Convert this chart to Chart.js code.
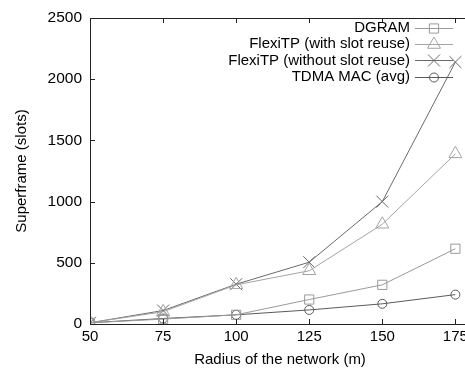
<!DOCTYPE html>
<html>
<head>
<meta charset="utf-8">
<script src="https://cdn.jsdelivr.net/npm/chart.js@4/dist/chart.umd.min.js"></script>
<style>
  html, body { margin: 0; padding: 0; background: #fff; overflow: hidden; width: 465px; height: 369px; }
  #wrap { width: 490px; height: 369px; }
</style>
</head>
<body>
<div id="wrap"><canvas id="c" width="490" height="369"></canvas></div>
<script>
// ---- data ----
const radius = [50, 75, 100, 125, 150, 175];
const dgram = [10, 40, 75, 200, 320, 615];
const flexiReuse = [10, 100, 320, 435, 815, 1390];
const flexiNoReuse = [10, 110, 325, 505, 1000, 2140];
const tdmaAvg = [10, 45, 75, 115, 165, 240];
const seriesNames = ['DGRAM', 'FlexiTP (with slot reuse)', 'FlexiTP (without slot reuse)', 'TDMA MAC (avg)'];
const xTicks = [50, 75, 100, 125, 150, 175];
const yTicks = [0, 500, 1000, 1500, 2000, 2500];

const FONT = 'Liberation Sans, Arial, Helvetica, sans-serif';
const styles = [
  { color: '#9a9a9a', pointStyle: 'rect', radius: 6.5 },
  { color: '#a4a4a4', pointStyle: 'triangle', radius: 7.5 },
  { color: '#6a6a6a', pointStyle: 'crossRot', radius: 8.5 },
  { color: '#5a5a5a', pointStyle: 'circle', radius: 4.5 }
];
const values = [dgram, flexiReuse, flexiNoReuse, tdmaAvg];

const datasets = values.map((vals, i) => ({
  label: seriesNames[i],
  data: radius.map((r, j) => ({ x: r, y: vals[j] })),
  borderColor: styles[i].color,
  backgroundColor: 'rgba(0,0,0,0)',
  borderWidth: 1,
  pointStyle: styles[i].pointStyle,
  pointRadius: styles[i].radius,
  pointHoverRadius: styles[i].radius,
  pointBorderColor: styles[i].color,
  pointBackgroundColor: 'rgba(0,0,0,0)',
  pointBorderWidth: 1,
  tension: 0
}));

function drawMarker(ctx, style, r, x, y) {
  ctx.beginPath();
  if (style === 'rect') {
    const s = Math.SQRT1_2 * r;
    ctx.rect(x - s, y - s, 2 * s, 2 * s);
  } else if (style === 'triangle') {
    ctx.moveTo(x, y - r);
    ctx.lineTo(x + r * Math.cos(Math.PI / 6), y + r / 2);
    ctx.lineTo(x - r * Math.cos(Math.PI / 6), y + r / 2);
    ctx.closePath();
  } else if (style === 'crossRot') {
    const o = Math.SQRT1_2 * r;
    ctx.moveTo(x - o, y - o); ctx.lineTo(x + o, y + o);
    ctx.moveTo(x - o, y + o); ctx.lineTo(x + o, y - o);
  } else {
    ctx.arc(x, y, r, 0, Math.PI * 2);
  }
  ctx.stroke();
}

const framePlugin = {
  id: 'frame',
  afterDatasetsDraw(chart) {
    const { ctx, chartArea: a, scales } = chart;
    ctx.save();
    ctx.strokeStyle = '#222';
    ctx.lineWidth = 1;
    ctx.strokeRect(Math.round(a.left) + 0.5, Math.round(a.top) + 0.5,
                   Math.round(a.right - a.left), Math.round(a.bottom - a.top));
    const tl = 5;
    ctx.beginPath();
    scales.x.ticks.forEach(t => {
      const px = Math.round(scales.x.getPixelForValue(t.value)) + 0.5;
      ctx.moveTo(px, a.bottom); ctx.lineTo(px, a.bottom - tl);
      ctx.moveTo(px, a.top); ctx.lineTo(px, a.top + tl);
    });
    scales.y.ticks.forEach(t => {
      const py = Math.round(scales.y.getPixelForValue(t.value)) + 0.5;
      ctx.moveTo(a.left, py); ctx.lineTo(a.left + tl, py);
      ctx.moveTo(a.right, py); ctx.lineTo(a.right - tl, py);
    });
    ctx.stroke();

    // legend (gnuplot style, text right-aligned, sample on right)
    ctx.font = '15px ' + FONT;
    ctx.textAlign = 'right';
    ctx.textBaseline = 'middle';
    chart.data.datasets.forEach((ds, i) => {
      const y = 28 + i * 16.2;
      ctx.fillStyle = '#000';
      ctx.fillText(ds.label, 410, y);
      ctx.strokeStyle = ds.borderColor;
      ctx.lineWidth = 1;
      ctx.beginPath();
      ctx.moveTo(415, Math.round(y) + 0.5); ctx.lineTo(453, Math.round(y) + 0.5);
      ctx.stroke();
      drawMarker(ctx, ds.pointStyle, ds.pointRadius, 434, Math.round(y) + 0.5);
    });
    ctx.restore();
  }
};

new Chart(document.getElementById('c'), {
  type: 'line',
  data: { datasets },
  options: {
    responsive: false,
    animation: false,
    devicePixelRatio: 1,
    layout: { padding: { top: 18, right: 20, bottom: 0, left: 0 } },
    plugins: { legend: { display: false }, tooltip: { enabled: false } },
    scales: {
      x: {
        type: 'linear',
        min: 50, max: 180,
        afterFit(s) { s.height = 45; },
        afterBuildTicks(s) { s.ticks = xTicks.map(v => ({ value: v })); },
        grid: { display: false, drawTicks: false },
        border: { display: false },
        ticks: { padding: 4, color: '#000', font: { family: FONT, size: 15 }, maxRotation: 0, callback: v => String(v) },
        title: { display: true, text: 'Radius of the network (m)', color: '#000', font: { family: FONT, size: 15 }, padding: { top: 0, bottom: 0 } }
      },
      y: {
        min: 0, max: 2500,
        afterFit(s) { s.width = 90; },
        afterBuildTicks(s) { s.ticks = yTicks.map(v => ({ value: v })); },
        grid: { display: false, drawTicks: false },
        border: { display: false },
        ticks: { padding: 8, color: '#000', font: { family: FONT, size: 15.5 }, callback: v => String(v) },
        title: { display: true, text: 'Superframe (slots)', color: '#000', font: { family: FONT, size: 15 }, padding: { top: 13, bottom: 0 } }
      }
    }
  },
  plugins: [framePlugin]
});
</script>
</body>
</html>
